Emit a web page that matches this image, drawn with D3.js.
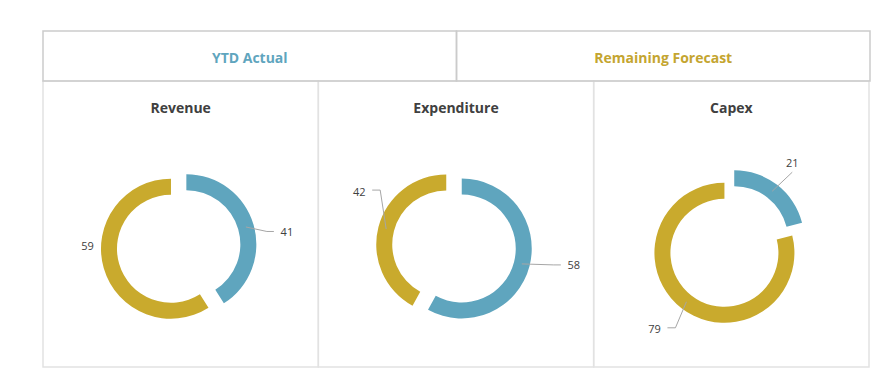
<!DOCTYPE html>
<meta charset="utf-8">
<style>
    body { margin: 0; background: #fff; }
    text { font-family: "Open Sans", "DejaVu Sans", sans-serif; }
</style>
<svg width="874" height="374"></svg>

<script src="https://cdn.jsdelivr.net/npm/d3@7"></script>
<script>
    // chart values
    var charts = ["Revenue", "Expenditure", "Capex"],
        series = ["YTD Actual", "Remaining Forecast"],
        ytdActual = [41, 58, 21],
        remainingForecast = [59, 42, 79];

    // label placement, per chart, per slice: [dx, dy] from the leader start
    var labelNudge = [
            [[41, 4.5], [-24, -21]],
            [[52, 1], [-27, -38]],
            [[20, -29], [-32, 27]]
        ],
        leaderStyle = [
            ["side", "none"],
            ["side", "elbow"],
            ["bottom", "elbow"]
        ];

    (function () {
        var svg = d3.select("svg"),
            left = 43, right = 869, topY = 31, headBottom = 81, bottomY = 367,
            blue = "#5fa5be", gold = "#c9aa2d",
            color = d3.scaleOrdinal().domain(series).range([blue, gold]),
            x = d3.scaleBand().domain(charts).range([left, right]),
            headX = d3.scaleBand().domain(series).range([left, right + 1]),
            outerR = 70, innerR = 54, explode = 8,
            pie = d3.pie().sort(null).value(function (d) { return d.value; }),
            arc = d3.arc().innerRadius(innerR).outerRadius(outerR);

        // chart panels
        svg.append("g").selectAll("rect")
            .data(charts)
            .enter()
            .append("rect")
            .attr("x", function (d) { return x(d); })
            .attr("y", headBottom)
            .attr("width", x.bandwidth())
            .attr("height", bottomY - headBottom)
            .attr("fill", "none")
            .attr("stroke", "#e2e2e2")
            .attr("stroke-width", 1.5);

        // header boxes
        var head = svg.append("g");
        head.selectAll("rect")
            .data(series)
            .enter()
            .append("rect")
            .attr("x", function (d) { return headX(d); })
            .attr("y", topY)
            .attr("width", headX.bandwidth())
            .attr("height", headBottom - topY)
            .attr("fill", "none")
            .attr("stroke", "#cbcbcb")
            .attr("stroke-width", 1.5);
        head.selectAll("text")
            .data(series)
            .enter()
            .append("text")
            .attr("x", function (d) { return headX(d) + headX.bandwidth() / 2; })
            .attr("y", (topY + headBottom) / 2 + 1)
            .attr("text-anchor", "middle")
            .attr("dominant-baseline", "central")
            .attr("font-size", 14)
            .attr("font-weight", "bold")
            .attr("fill", function (d) { return d === series[0] ? "#5fa5be" : "#c4a530"; })
            .text(function (d) { return d; });

        charts.forEach(function (name, i) {
            var cx = x(name) + x.bandwidth() / 2 - 2,
                cy = 246.5,
                g = svg.append("g").attr("transform", "translate(" + cx + "," + cy + ")"),
                slices = pie([
                    {key: series[0], value: ytdActual[i]},
                    {key: series[1], value: remainingForecast[i]}
                ]);

            svg.append("text")
                .attr("x", x(name) + x.bandwidth() / 2)
                .attr("y", 107)
                .attr("text-anchor", "middle")
                .attr("dominant-baseline", "central")
                .attr("font-size", 14)
                .attr("font-weight", "bold")
                .attr("fill", "#404040")
                .text(name);

            slices.forEach(function (s, j) {
                var mid = (s.startAngle + s.endAngle) / 2,
                    ox = explode * Math.sin(mid),
                    oy = -explode * Math.cos(mid),
                    rm = (innerR + outerR) / 2,
                    sx = ox + rm * Math.sin(mid),
                    sy = oy - rm * Math.cos(mid),
                    lx = sx + labelNudge[i][j][0],
                    ly = sy + labelNudge[i][j][1],
                    style = leaderStyle[i][j],
                    pts = null;

                g.append("path")
                    .attr("transform", "translate(" + ox + "," + oy + ")")
                    .attr("d", arc(s))
                    .attr("fill", color(s.data.key));

                if (style === "side") {
                    pts = [[sx, sy], [lx - 20, ly], [lx - 13, ly]];
                } else if (style === "elbow") {
                    pts = [[sx, sy], [lx + 21, ly - 1], [lx + 13, ly - 1]];
                } else if (style === "bottom") {
                    pts = [[sx, sy], [lx, ly + 10]];
                }
                if (pts) {
                    g.append("path")
                        .attr("d", d3.line()(pts))
                        .attr("fill", "none")
                        .attr("stroke", "#a6a6a6")
                        .attr("stroke-width", 1);
                }

                g.append("text")
                    .attr("x", lx)
                    .attr("y", ly)
                    .attr("text-anchor", "middle")
                    .attr("dominant-baseline", "central")
                    .attr("font-size", 11)
                    .attr("fill", "#404040")
                    .text(s.data.value);
            });
        });
    })();
</script>
